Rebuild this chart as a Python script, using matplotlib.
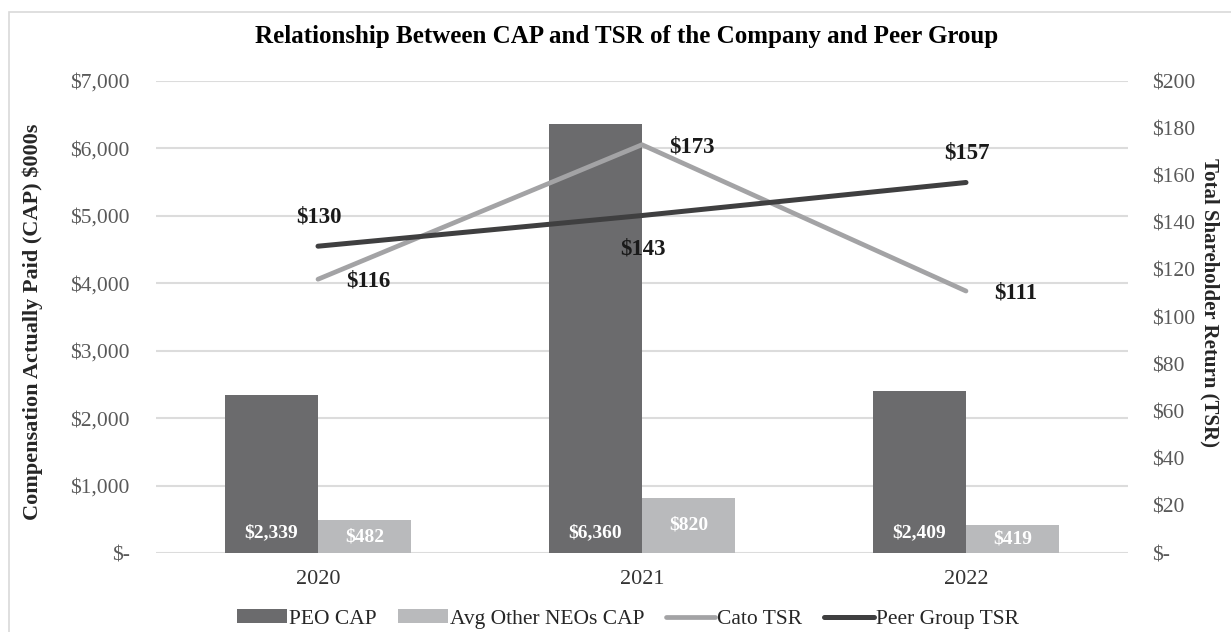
import numpy as np
import matplotlib.pyplot as plt
from matplotlib.patches import Rectangle
from matplotlib.ticker import FuncFormatter

plt.rcParams['font.family'] = ['Liberation Serif', 'DejaVu Serif']

# data
years = ['2020', '2021', '2022']
peo_cap = [2339, 6360, 2409]
neo_cap = [482, 820, 419]
cato_tsr = [116, 173, 111]
peer_tsr = [130, 143, 157]

peo_color = '#6b6b6d'
neo_color = '#b9babc'
cato_color = '#a3a3a5'
peer_color = '#3f3f40'
grid_color = '#dcdcdc'
tick_color = '#595959'

fig = plt.figure(figsize=(12.31, 6.32), dpi=100)
fig.patches.append(Rectangle((9 / 1231, -0.1), 1.2, 1 - 12 / 632 + 0.1,
                             transform=fig.transFigure, fill=False,
                             edgecolor='#d9d9d9', linewidth=1.2))

ax = fig.add_axes([156 / 1231, 79 / 632, 972 / 1231, 472 / 632])
ax2 = ax.twinx()
ax.set_zorder(1)
ax2.set_zorder(2)
ax.patch.set_visible(False)

x = np.arange(len(years))
w = 0.287
b1 = ax.bar(x - w / 2, peo_cap, w, color=peo_color, label='PEO CAP', zorder=3)
b2 = ax.bar(x + w / 2, neo_cap, w, color=neo_color, label='Avg Other NEOs CAP', zorder=3)

ax.set_xlim(-0.5, 2.5)
ax.set_ylim(0, 7000)
ax.set_yticks(np.arange(0, 7001, 1000))
ax.yaxis.set_major_formatter(FuncFormatter(lambda v, p: '$-' if v == 0 else f'${v:,.0f}'))
ax.set_xticks(x)
ax.set_xticklabels(years)
ax.grid(axis='y', color=grid_color, linewidth=1.5, zorder=0)
for s in ax.spines.values():
    s.set_visible(False)
for s in ax2.spines.values():
    s.set_visible(False)
ax.tick_params(axis='y', length=0, pad=19, labelsize=15.5, labelcolor=tick_color)
ax.tick_params(axis='x', length=0, pad=12, labelsize=16, labelcolor='#333333')

l1, = ax2.plot(x, cato_tsr, color=cato_color, linewidth=3.4, label='Cato TSR',
               solid_capstyle='round')
l2, = ax2.plot(x, peer_tsr, color=peer_color, linewidth=3.6, label='Peer Group TSR',
               solid_capstyle='round')
ax2.set_ylim(0, 200)
ax2.set_yticks(np.arange(0, 201, 20))
ax2.yaxis.set_major_formatter(FuncFormatter(lambda v, p: '$-' if v == 0 else f'${v:,.0f}'))
ax2.tick_params(axis='y', length=0, pad=17, labelsize=15.5, labelcolor=tick_color)

# bar labels
for xi, v in zip(x, peo_cap):
    ax.annotate(f'${v:,}', (xi - w / 2, 0), xytext=(0, 14.5), textcoords='offset points',
                ha='center', va='center', color='white', fontsize=14, fontweight='bold', zorder=5)
for xi, v in zip(x, neo_cap):
    ax.annotate(f'${v:,}', (xi + w / 2, v / 2), ha='center', va='center',
                color='white', fontsize=14, fontweight='bold', zorder=5)

# line labels
peer_offsets = [(1, 21), (1, -24), (1, 21)]
for xi, v, off in zip(x, peer_tsr, peer_offsets):
    ax2.annotate(f'${v}', (xi, v), xytext=off, textcoords='offset points',
                 ha='center', va='center', fontsize=16.5, fontweight='bold', color='#1a1a1a')
for xi, v in zip(x, cato_tsr):
    ax2.annotate(f'${v}', (xi, v), xytext=(36, -1.5), textcoords='offset points',
                 ha='center', va='center', fontsize=16.5, fontweight='bold', color='#1a1a1a')

fig.text(627 / 1231, 1 - 37 / 632, 'Relationship Between CAP and TSR of the Company and Peer Group',
         ha='center', va='center', fontsize=18, fontweight='bold')
fig.text(33 / 1231, 1 - 322 / 632, 'Compensation Actually Paid (CAP) $000s', rotation=90,
         ha='center', va='center', fontsize=16, fontweight='bold', color='#262626')
fig.text(1210 / 1231, 1 - 303 / 632, 'Total Shareholder Return (TSR)', rotation=270,
         ha='center', va='center', fontsize=15, fontweight='bold', color='#262626')

fig.legend(handles=[b1, b2, l1, l2], loc='center', bbox_to_anchor=(628 / 1231, 1 - 619 / 632),
           ncol=4, frameon=False, fontsize=15.5, handlelength=2.3, handleheight=0.6,
           handletextpad=0.1, columnspacing=1.0, labelcolor='#262626')

fig.savefig('out.png', dpi=100)
